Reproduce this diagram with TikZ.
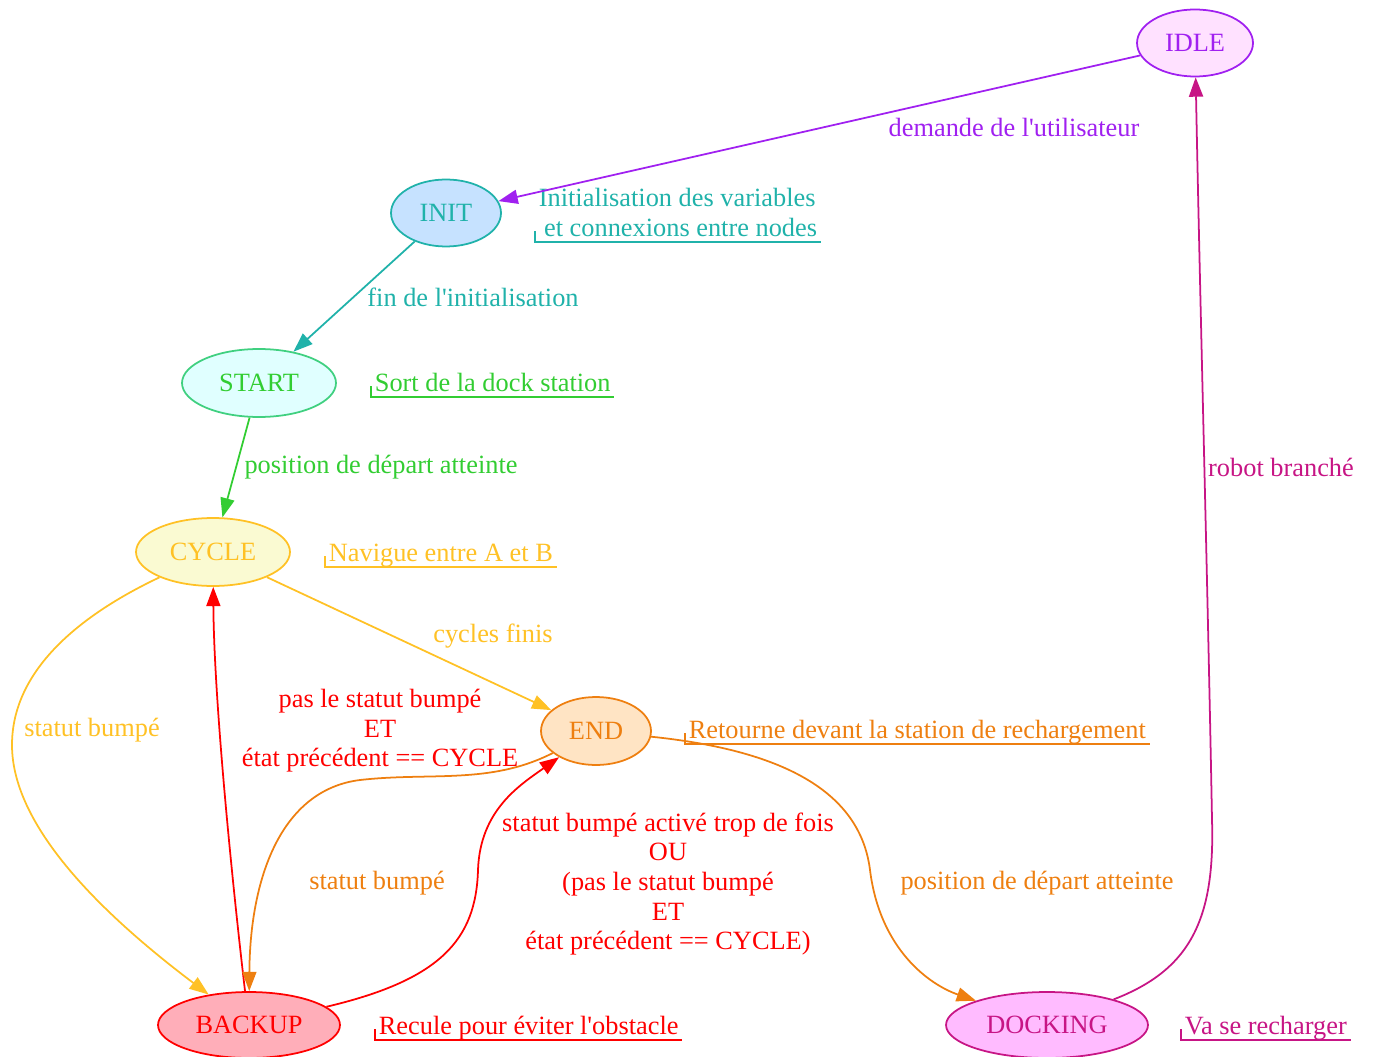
\documentclass[tikz,border=0pt]{standalone}
\usepackage{fontspec}
\setmainfont{Liberation Serif}
\usetikzlibrary{shapes.geometric,arrows.meta}
\definecolor{idlec}{HTML}{A020F0}
\definecolor{idlef}{HTML}{FFE1FF}
\definecolor{initc}{HTML}{20B2AA}
\definecolor{initf}{HTML}{C6E2FF}
\definecolor{startc}{HTML}{32CD32}
\definecolor{startb}{HTML}{40D080}
\definecolor{startf}{HTML}{E0FFFF}
\definecolor{cyclec}{HTML}{FFC125}
\definecolor{cyclef}{HTML}{FAFAD2}
\definecolor{endc}{HTML}{EE7F10}
\definecolor{endf}{HTML}{FFE4C4}
\definecolor{backc}{HTML}{FF0000}
\definecolor{backf}{HTML}{FFAEB9}
\definecolor{dockc}{HTML}{C71585}
\definecolor{dockf}{HTML}{FFBBFF}
\newcommand{\apos}{\textquotesingle}

\begin{document}
\begin{tikzpicture}[x=0.02cm,y=-0.02cm,
  every node/.style={font=\fontsize{15}{16.8}\selectfont},
  state/.style={ellipse, draw, line width=1pt, inner sep=0pt},
  note/.style={anchor=south west, inner xsep=2pt, inner ysep=1pt, text depth=2pt, align=left},
  lbl/.style={align=center, inner sep=1pt},
  edge/.style={line width=1pt, -{Triangle[length=11pt,width=8pt]}}]
\useasboundingbox (0,0) rectangle (1375,1057);
% etats
\node[state, draw=idlec, fill=idlef, text=idlec, minimum width=2.32cm, minimum height=1.34cm] (idle) at (1195,43) {IDLE};
\node[state, draw=initc, fill=initf, text=initc, minimum width=2.2cm, minimum height=1.34cm] (init) at (446,213) {INIT};
\node[state, draw=startb, fill=startf, text=startc, minimum width=3.08cm, minimum height=1.36cm] (start) at (259,383) {START};
\node[state, draw=cyclec, fill=cyclef, text=cyclec, minimum width=3.08cm, minimum height=1.36cm] (cycle) at (213,552) {CYCLE};
\node[state, draw=endc, fill=endf, text=endc, minimum width=2.2cm, minimum height=1.36cm] (endst) at (596,731) {END};
\node[state, draw=backc, fill=backf, text=backc, minimum width=3.64cm, minimum height=1.32cm] (backup) at (249,1025) {BACKUP};
\node[state, draw=dockc, fill=dockf, text=dockc, minimum width=4.04cm, minimum height=1.32cm] (docking) at (1047,1025) {DOCKING};
% descriptions
\node[note, text=initc] (nInit) at (535,242) {Initialisation des variables\\\hspace{0.2em}et connexions entre nodes};
\node[note, text=startc] (nStart) at (371,397) {Sort de la dock station};
\node[note, text=cyclec] (nCycle) at (325,567) {Navigue entre A et B};
\node[note, text=endc] (nEnd) at (685,744) {Retourne devant la station de rechargement};
\node[note, text=backc] (nBack) at (375,1040) {Recule pour éviter l\apos obstacle};
\node[note, text=dockc] (nDock) at (1181,1040) {Va se recharger};
\foreach \n/\c in {nInit/initc, nStart/startc, nCycle/cyclec, nEnd/endc, nBack/backc, nDock/dockc}
    \draw[\c, line width=1pt] ([yshift=6pt]\n.south west) -- (\n.south west) -- (\n.south east);
% transitions
\draw[edge, idlec] (idle) -- (init);
\draw[edge, initc] (init) -- (start);
\draw[edge, startc] (start) -- (cycle);
\draw[edge, cyclec] (cycle) -- (endst);
\draw[edge, cyclec] (cycle) .. controls (80,615) and (12,670) .. (12,745) .. controls (12,830) and (110,920) .. (backup);
\draw[edge, backc] (backup) .. controls (232,880) and (214,700) .. (cycle);
\draw[edge, endc] (endst) .. controls (490,785) and (430,772) .. (360,780) .. controls (280,790) and (250,880) .. (backup);
\draw[edge, backc] (backup) .. controls (440,980) and (476,940) .. (478,870) .. controls (480,810) and (520,785) .. (endst);
\draw[edge, endc] (endst) .. controls (780,750) and (860,790) .. (870,870) .. controls (880,950) and (930,985) .. (docking);
\draw[edge, dockc] (docking) .. controls (1190,970) and (1215,920) .. (1212,820) .. controls (1208,600) and (1200,300) .. (idle);
% etiquettes
\node[lbl, text=idlec] (lDemande) at (1014,127) {demande de l\apos utilisateur};
\node[lbl, text=initc] (lFinInit) at (473,297) {fin de l\apos initialisation};
\node[lbl, text=startc] (lDepart) at (381,467) {position de départ atteinte};
\node[lbl, text=cyclec] (lFinis) at (493,636) {cycles finis};
\node[lbl, text=cyclec] (lBumpCycle) at (92,730) {statut bumpé};
\node[lbl, text=backc] (lRetour) at (380,731) {pas le statut bumpé\\ET\\état précédent == CYCLE};
\node[lbl, text=endc] (lBumpEnd) at (377,883) {statut bumpé};
\node[lbl, text=backc] (lTrop) at (668,884) {statut bumpé activé trop de fois\\OU\\(pas le statut bumpé\\ET\\état précédent == CYCLE)};
\node[lbl, text=endc] (lDock) at (1037,883) {position de départ atteinte};
\node[lbl, text=dockc] (lBranche) at (1281,467) {robot branché};
\end{tikzpicture}
\end{document}
